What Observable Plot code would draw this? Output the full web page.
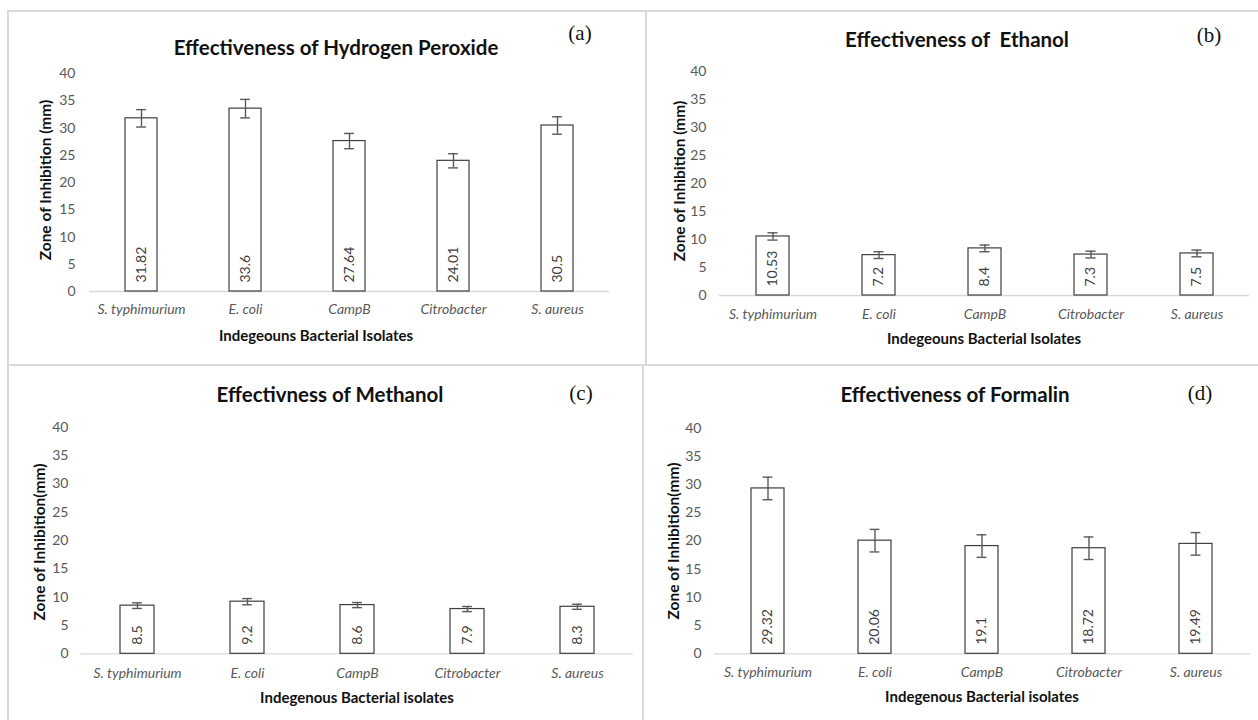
<!DOCTYPE html>
<html>
<head>
<meta charset="utf-8">
<script src="https://cdn.jsdelivr.net/npm/d3@7"></script>
<script src="https://cdn.jsdelivr.net/npm/@observablehq/plot@0.6"></script>
<style>
  html, body { margin: 0; padding: 0; background: #fff; }
  #page { position: relative; width: 1258px; height: 720px; overflow: hidden; font-family: Lato, "Open Sans", sans-serif; }
  .line { position: absolute; background: #dadada; }
  .lbl { position: absolute; transform: translate(-50%, -50%); white-space: pre; line-height: 1; }
  .title { font-weight: bold; font-size: 20.5px; color: #111; }
  .tag { font-family: "Liberation Serif", "DejaVu Serif", serif; font-size: 21px; color: #111; }
  .xlab { font-weight: bold; font-size: 15px; color: #111; }
  .ylab { font-weight: bold; font-size: 15.5px; color: #111; transform: translate(-50%, -50%) rotate(-90deg); }
  svg g[aria-label="x-axis tick label"] { font-style: italic; }
</style>
</head>
<body>
<div id="page"></div>
<script>
// ---- data ----
const isolates = ["S. typhimurium", "E. coli", "CampB", "Citrobacter", "S. aureus"];
const yTicks = [0, 5, 10, 15, 20, 25, 30, 35, 40];

const peroxideMean = [31.82, 33.6, 27.64, 24.01, 30.5];
const peroxideErr  = [1.6, 1.7, 1.4, 1.3, 1.6];

const ethanolMean = [10.53, 7.2, 8.4, 7.3, 7.5];
const ethanolErr  = [0.65, 0.6, 0.6, 0.6, 0.6];

const methanolMean = [8.5, 9.2, 8.6, 7.9, 8.3];
const methanolErr  = [0.5, 0.55, 0.45, 0.45, 0.45];

const formalinMean = [29.32, 20.06, 19.1, 18.72, 19.49];
const formalinErr  = [2.0, 2.0, 2.0, 2.0, 2.0];

const titles = ["Effectiveness of Hydrogen Peroxide", "Effectiveness of  Ethanol", "Effectivness of Methanol", "Effectiveness of Formalin"];
const tags = ["(a)", "(b)", "(c)", "(d)"];
const yLabels = ["Zone of Inhibition (mm)", "Zone of Inhibition (mm)", "Zone of Inhibition(mm)", "Zone of Inhibition(mm)"];
const xLabels = ["Indegeouns Bacterial Isolates", "Indegeouns Bacterial Isolates", "Indegenous Bacterial isolates", "Indegenous Bacterial isolates"];

// ---- layout (page coordinates) ----
const W = 1258, H = 720;
const layout = [
  {x0: 89, x1: 609, y0: 291, y40: 73.3, title: [336, 47], tag: [580, 33], ylab: [46, 180], xlab: [316, 335], xpad: 13, ypad: 14},
  {x0: 719, x1: 1249, y0: 295, y40: 70.7, title: [957, 39], tag: [1209, 35], ylab: [680, 181], xlab: [984, 338], xpad: 14, ypad: 13},
  {x0: 80.5, x1: 633, y0: 653.3, y40: 426.7, title: [330, 394], tag: [581, 393], ylab: [40, 542], xlab: [357, 697], xpad: 14.5, ypad: 12.5},
  {x0: 714, x1: 1250, y0: 653.3, y40: 427.7, title: [955, 394], tag: [1200, 393], ylab: [674, 541], xlab: [982, 696], xpad: 13.5, ypad: 13}
];
const series = [[peroxideMean, peroxideErr], [ethanolMean, ethanolErr], [methanolMean, methanolErr], [formalinMean, formalinErr]];

const page = document.getElementById("page");

// panel frame lines
function line(l, t, w, h) {
  const d = document.createElement("div");
  d.className = "line";
  Object.assign(d.style, {left: l + "px", top: t + "px", width: w + "px", height: h + "px"});
  page.appendChild(d);
}
line(7, 10, W - 7, 2);
line(7, 10, 2, H - 10);
line(7, 364, W - 7, 2);
line(645, 10, 2, 355);
line(642, 365, 2, H - 365);

function label(cls, text, [x, y]) {
  const d = document.createElement("div");
  d.className = "lbl " + cls;
  d.textContent = text;
  d.style.left = x + "px";
  d.style.top = y + "px";
  page.appendChild(d);
}

const padInner = 0.69;
series.forEach(([means, errs], i) => {
  const L = layout[i];
  const data = isolates.map((c, j) => ({cat: c, v: means[j], e: errs[j]}));
  const bw = (L.x1 - L.x0) / isolates.length * (1 - padInner);
  const inset = (bw - 10) / 2;
  const ink = "#595959";
  const chart = Plot.plot({
    width: W,
    height: H,
    marginLeft: L.x0,
    marginRight: W - L.x1,
    marginTop: L.y40,
    marginBottom: H - L.y0,
    style: {background: "transparent", position: "absolute", left: "0px", top: "0px", fontFamily: "Lato, 'Open Sans', sans-serif", overflow: "visible"},
    x: {type: "band", domain: isolates, paddingInner: padInner, paddingOuter: padInner / 2},
    y: {domain: [0, 40]},
    marks: [
      Plot.ruleY([0], {stroke: "#d9d9d9", strokeWidth: 1.3}),
      Plot.axisY({ticks: yTicks, tickSize: 0, tickPadding: L.ypad, label: null, fontSize: 14, fill: ink, stroke: "none"}),
      Plot.axisX({tickSize: 0, tickPadding: L.xpad, label: null, fontSize: 14, fill: ink, fontStyle: "italic"}),
      Plot.barY(data, {x: "cat", y: "v", fill: "white", stroke: "#3f3f3f", strokeWidth: 1.2}),
      Plot.ruleX(data, {x: "cat", y1: d => d.v - d.e, y2: d => d.v + d.e, stroke: ink, strokeWidth: 1.4}),
      Plot.tickY(data, {x: "cat", y: d => d.v + d.e, insetLeft: inset, insetRight: inset, stroke: ink, strokeWidth: 1.4}),
      Plot.tickY(data, {x: "cat", y: d => d.v - d.e, insetLeft: inset, insetRight: inset, stroke: ink, strokeWidth: 1.4}),
      Plot.text(data, {x: "cat", y: 0, text: d => String(d.v), rotate: -90, textAnchor: "start", dy: -9, fontSize: 14, fill: "#404040"})
    ]
  });
  page.appendChild(chart);
  label("title", titles[i], L.title);
  label("tag", tags[i], L.tag);
  label("ylab", yLabels[i], L.ylab);
  label("xlab", xLabels[i], L.xlab);
});
</script>
</body>
</html>
